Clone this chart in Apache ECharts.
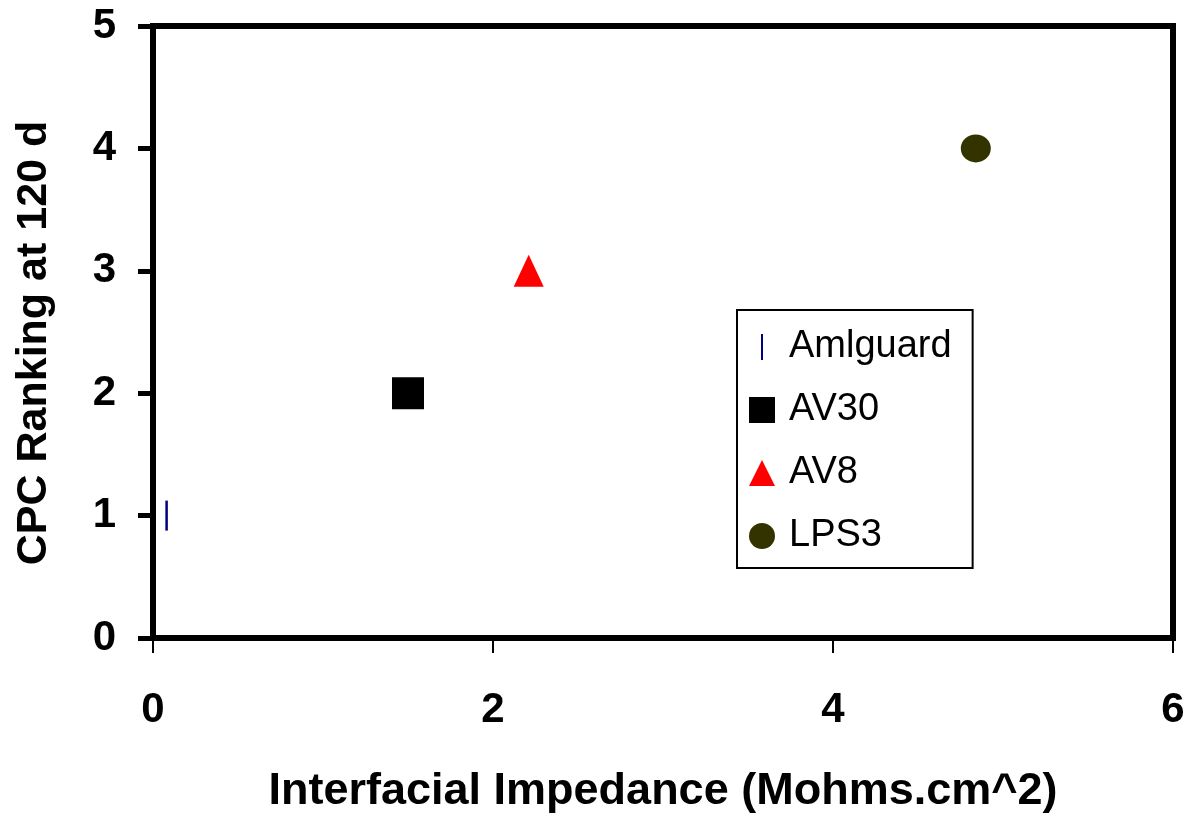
<!DOCTYPE html>
<html>
<head>
<meta charset="utf-8">
<script src="https://cdn.jsdelivr.net/npm/echarts@6/dist/echarts.min.js"></script>
<style>
  html, body { margin: 0; padding: 0; background: #fff; }
  #chart { width: 1193px; height: 819px; }
</style>
</head>
<body>
<div id="chart"></div>
<script>
// series names and their single (impedance, ranking) point
var seriesNames = ['Amlguard', 'AV30', 'AV8', 'LPS3'];
var impedance = [0.08, 1.5, 2.21, 4.84];   // Mohms.cm^2
var ranking = [1, 2, 3, 4];                // CPC ranking at 120 d
var xTicks = [0, 2, 4, 6];
var yTicks = [0, 1, 2, 3, 4, 5];

var FONT = "'Liberation Sans', Arial, sans-serif";

// marker look for each series
var markers = [
  { symbol: 'rect', size: [2.5, 30], color: '#000080', icon: 'path://M0,0 L1,0 L1,13 L0,13 Z' },
  { symbol: 'rect', size: 32, color: '#000000', icon: 'rect' },
  { symbol: 'triangle', size: [30, 32], color: '#ff0000', icon: 'triangle' },
  { symbol: 'circle', size: [30, 28], color: '#333300', icon: 'circle' }
];

var chart = echarts.init(document.getElementById('chart'));

var series = [];
for (let i = 0; i < seriesNames.length; i++) {
  series.push({
    name: seriesNames[i],
    type: 'scatter',
    symbol: markers[i].symbol,
    symbolSize: markers[i].size,
    itemStyle: { color: markers[i].color, opacity: 1 },
    data: [[impedance[i], ranking[i]]]
  });
}

chart.setOption({
  backgroundColor: '#fff',
  animation: false,
  textStyle: { fontFamily: FONT },
  grid: {
    left: 153,
    right: 20,
    top: 26,
    bottom: 179,
    show: true,
    borderColor: '#000',
    borderWidth: 6
  },
  legend: {
    orient: 'vertical',
    left: 737,
    top: 310,
    padding: [18, 21, 13, 12],
    itemGap: 25,
    itemWidth: 26,
    itemHeight: 26,
    borderColor: '#000',
    borderWidth: 2,
    backgroundColor: '#fff',
    textStyle: { fontSize: 38, color: '#000', fontFamily: FONT, padding: [0, 0, 0, 9] },
    data: seriesNames.map(function (n, i) {
      return { name: n, icon: markers[i].icon };
    })
  },
  xAxis: {
    type: 'value',
    min: 0,
    max: 6,
    interval: 2,
    name: 'Interfacial Impedance (Mohms.cm^2)',
    nameLocation: 'middle',
    nameGap: 131,
    nameTextStyle: { fontSize: 45, fontWeight: 'bold', color: '#000', fontFamily: FONT },
    splitLine: { show: false },
    axisLine: { show: true, lineStyle: { color: '#000', width: 6 } },
    axisTick: { show: true, length: 15, lineStyle: { color: '#000', width: 2 } },
    axisLabel: {
      margin: 51,
      fontSize: 42,
      fontWeight: 'bold',
      color: '#000',
      fontFamily: FONT,
      formatter: function (v) { return xTicks.indexOf(v) >= 0 ? String(v) : ''; }
    }
  },
  yAxis: {
    type: 'value',
    min: 0,
    max: 5,
    interval: 1,
    name: 'CPC Ranking at 120 d',
    nameLocation: 'middle',
    nameGap: 97,
    nameRotate: 90,
    nameTextStyle: { fontSize: 43, fontWeight: 'bold', color: '#000', fontFamily: FONT, padding: [0, 22, 0, 0] },
    splitLine: { show: false },
    axisLine: { show: true, lineStyle: { color: '#000', width: 6 } },
    axisTick: { show: true, length: 15, lineStyle: { color: '#000', width: 5 } },
    axisLabel: {
      margin: 37,
      fontSize: 42,
      fontWeight: 'bold',
      color: '#000',
      fontFamily: FONT,
      formatter: function (v) { return yTicks.indexOf(v) >= 0 ? String(v) : ''; }
    }
  },
  series: series
});
</script>
</body>
</html>
